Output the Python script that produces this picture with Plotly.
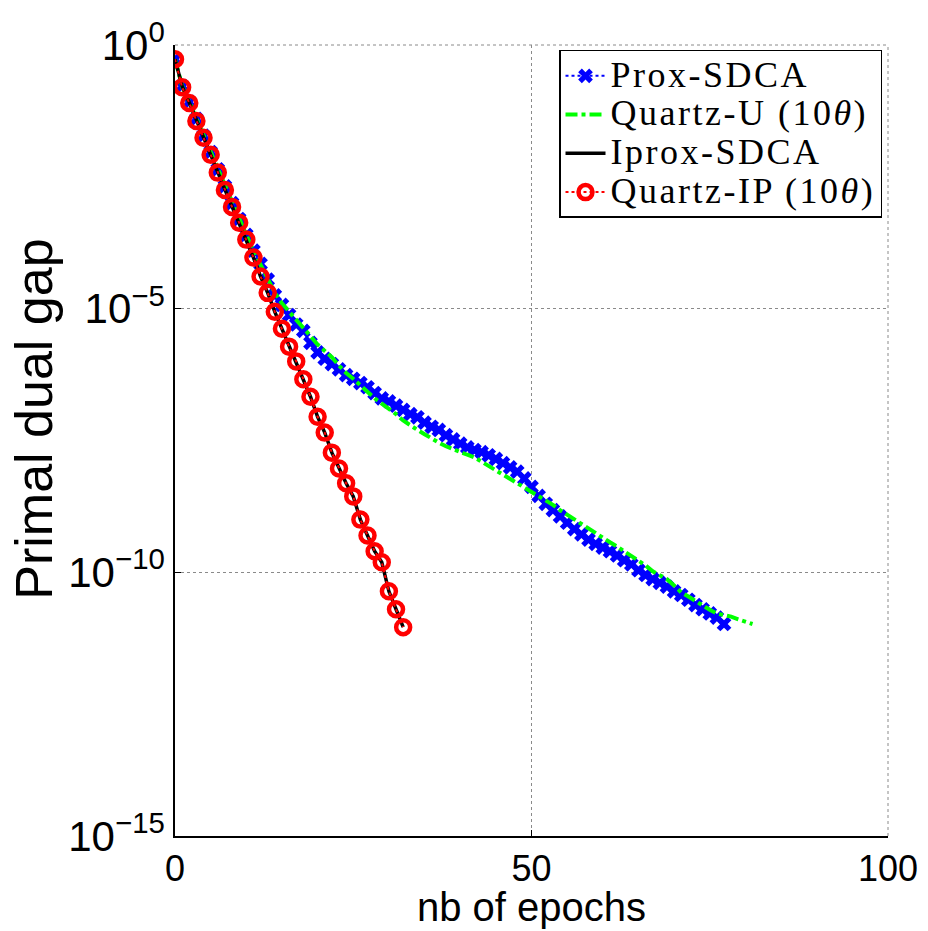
import plotly.graph_objects as go

# ---- data (log10 of primal dual gap) ----
epochs_ip = list(range(0, 33))
quartz_ip_log10 = [-0.27, -0.80, -1.10, -1.44, -1.76, -2.08, -2.42, -2.75, -3.07, -3.37,
                   -3.69, -4.03, -4.39, -4.70, -5.06, -5.38, -5.72, -6.00, -6.34, -6.67,
                   -7.05, -7.35, -7.73, -8.03, -8.31, -8.56, -9.00, -9.30, -9.60, -9.81,
                   -10.36, -10.70, -11.04]
iprox_sdca_log10 = [-0.27, -0.78, -1.09, -1.43, -1.75, -2.07, -2.41, -2.74, -3.06, -3.37,
                    -3.69, -4.03, -4.39, -4.70, -5.06, -5.38, -5.72, -6.00, -6.34, -6.67,
                    -7.05, -7.35, -7.73, -8.03, -8.31, -8.56, -9.00, -9.30, -9.60, -9.81,
                    -10.36, -10.70, -11.04]

epochs_prox = list(range(0, 78))
prox_sdca_log10 = [-0.27, -0.78, -1.08, -1.40, -1.72, -2.03, -2.36, -2.68, -3.00, -3.30,
                   -3.60, -3.90, -4.15, -4.45, -4.75, -4.93, -5.12, -5.30, -5.42, -5.65,
                   -5.83, -5.95, -6.05, -6.15, -6.26, -6.33, -6.41, -6.49, -6.60, -6.70,
                   -6.76, -6.84, -6.92, -7.00, -7.06, -7.16, -7.24, -7.30, -7.40, -7.48,
                   -7.56, -7.63, -7.68, -7.72, -7.78, -7.85, -7.93, -8.01, -8.09, -8.22,
                   -8.38, -8.55, -8.70, -8.82, -8.94, -9.06, -9.18, -9.28, -9.38, -9.46,
                   -9.53, -9.60, -9.68, -9.77, -9.85, -9.96, -10.05, -10.13, -10.20, -10.27,
                   -10.36, -10.43, -10.52, -10.62, -10.70, -10.78, -10.86, -10.98]

epochs_qu = list(range(0, 82))
quartz_u_log10 = [-0.27, -0.78, -1.08, -1.40, -1.72, -2.03, -2.36, -2.68, -3.00, -3.30,
                  -3.60, -3.90, -4.17, -4.45, -4.70, -4.90, -5.05, -5.22, -5.36, -5.52,
                  -5.68, -5.80, -5.92, -6.08, -6.22, -6.33, -6.46, -6.59, -6.70, -6.80,
                  -6.89, -7.00, -7.12, -7.22, -7.30, -7.38, -7.47, -7.54, -7.61, -7.67,
                  -7.72, -7.77, -7.82, -7.90, -7.98, -8.07, -8.16, -8.24, -8.31, -8.39,
                  -8.47, -8.56, -8.64, -8.72, -8.82, -8.91, -9.00, -9.09, -9.17, -9.26,
                  -9.34, -9.43, -9.51, -9.60, -9.68, -9.76, -9.87, -9.98, -10.06, -10.13,
                  -10.25, -10.38, -10.46, -10.55, -10.63, -10.71, -10.78, -10.81, -10.84, -10.89,
                  -10.94, -10.98]

series_names = ["Prox-SDCA", "Quartz-U (10<i>θ</i>)", "Iprox-SDCA", "Quartz-IP (10<i>θ</i>)"]

y_tick_vals = [1e-15, 1e-10, 1e-5, 1e0]
y_tick_text = ["10<sup>−15</sup>", "10<sup>−10</sup>", "10<sup>−5</sup>", "10<sup>0</sup>"]
x_tick_vals = [0, 50, 100]
x_tick_text = ["0", "50", "100"]

x_title = "nb of epochs"
y_title = "Primal dual gap"


def to_val(logs):
    return [10 ** v for v in logs]


def legend_label(name):
    return '<span style="font-size:36px;letter-spacing:2.5px">' + name + '</span>'


fig = go.Figure()
fig.add_trace(go.Scatter(
    x=epochs_prox, y=to_val(prox_sdca_log10), name=legend_label(series_names[0]),
    mode="lines+markers",
    line=dict(color="#0000ff", width=2, dash="dot"),
    marker=dict(symbol="x", size=13, color="#0000ff", line=dict(width=0))))
fig.add_trace(go.Scatter(
    x=epochs_qu, y=to_val(quartz_u_log10), name=legend_label(series_names[1]), mode="lines",
    line=dict(color="#00ff00", width=4, dash="dashdot")))
fig.add_trace(go.Scatter(
    x=epochs_ip, y=to_val(iprox_sdca_log10), name=legend_label(series_names[2]), mode="lines",
    line=dict(color="#000000", width=3.5)))
fig.add_trace(go.Scatter(
    x=epochs_ip, y=to_val(quartz_ip_log10), name=legend_label(series_names[3]),
    mode="lines+markers",
    line=dict(color="#ff0000", width=2, dash="dot"),
    marker=dict(symbol="circle-open", size=14, color="#ff0000",
                line=dict(width=4.5, color="#ff0000"))))

xtick_font = dict(family="Liberation Sans, Arial, sans-serif", size=36, color="black")
ytick_font = dict(family="Liberation Sans, Arial, sans-serif", size=42, color="black")
xtitle_font = dict(family="Liberation Sans, Arial, sans-serif", size=40, color="black")
ytitle_font = dict(family="Liberation Sans, Arial, sans-serif", size=52, color="black")

grid_color = "#8a8a8a"

fig.update_layout(
    width=928, height=931,
    margin=dict(l=175, r=40, t=45, b=95, autoexpand=False),
    paper_bgcolor="white", plot_bgcolor="white",
    showlegend=True,
    legend=dict(
        x=0.9916, y=0.9937, xanchor="right", yanchor="top",
        bgcolor="white", bordercolor="black", borderwidth=1.5,
        font=dict(family="Liberation Serif, Times New Roman, serif", size=27.5, color="black"),
        itemwidth=40, tracegroupgap=0,
    ),
    xaxis=dict(
        range=[0, 100], tickvals=x_tick_vals, ticktext=x_tick_text,
        automargin=False,
        showgrid=True, gridcolor=grid_color, griddash="dot", gridwidth=1,
        showline=True, linecolor="black", linewidth=1.5, mirror=False,
        ticks="inside", ticklen=6, tickcolor="black",
        zeroline=False, tickfont=xtick_font,
    ),
    yaxis=dict(
        type="log", range=[-15, 0], tickvals=y_tick_vals, ticktext=y_tick_text,
        automargin=False,
        showgrid=True, gridcolor=grid_color, griddash="dot", gridwidth=1,
        showline=True, linecolor="black", linewidth=1.5, mirror=False,
        ticks="inside", ticklen=6, tickcolor="black",
        zeroline=False, tickfont=ytick_font,
    ),
    annotations=[
        dict(text=y_title, textangle=-90, xref="paper", yref="paper",
             x=-0.197, y=0.527, xanchor="center", yanchor="middle",
             showarrow=False, font=ytitle_font),
        dict(text=x_title, xref="paper", yref="paper",
             x=0.5, y=-0.1195, xanchor="center", yanchor="bottom",
             showarrow=False, font=xtitle_font),
    ],
    shapes=[
        dict(type="line", xref="paper", yref="paper", x0=0, x1=1, y0=1, y1=1,
             line=dict(color=grid_color, width=1, dash="dot"), layer="below"),
        dict(type="line", xref="paper", yref="paper", x0=1, x1=1, y0=0, y1=1,
             line=dict(color=grid_color, width=1, dash="dot"), layer="below"),
    ],
)

fig.write_html("out.html")
